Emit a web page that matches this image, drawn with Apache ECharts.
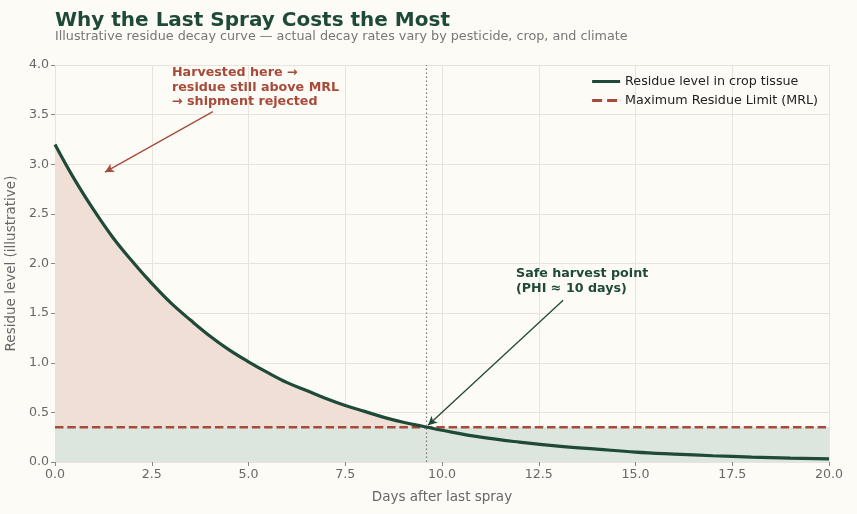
<!DOCTYPE html>
<html>
<head>
    <meta charset="utf-8">
    <title>Why the Last Spray Costs the Most</title>
    <script src="https://cdn.jsdelivr.net/npm/echarts@6/dist/echarts.min.js"></script>
    <style>
        html, body { margin: 0; padding: 0; background: #fdfbf6; }
        #main { width: 857px; height: 514px; }
    </style>
</head>
<body>
    <div id="main"></div>
    <script type="text/javascript">
        // values (every half day)
        var days = [0, 0.5, 1, 1.5, 2, 2.5, 3, 3.5, 4, 4.5, 5, 5.5, 6, 6.5, 7, 7.5, 8, 8.5, 9, 9.5,
                    10, 11, 12, 13, 14, 15, 16, 17, 18, 19, 20];
        var residue = [3.20, 2.85, 2.54, 2.26, 2.02, 1.80, 1.60, 1.43, 1.27, 1.13, 1.01, 0.90, 0.80,
                       0.72, 0.64, 0.57, 0.51, 0.45, 0.40, 0.36,
                       0.32, 0.25, 0.20, 0.16, 0.13, 0.10, 0.08, 0.063, 0.05, 0.04, 0.032];
        var mrl = 0.35;
        var phiDay = 9.6;
        var xTicks = [0, 2.5, 5, 7.5, 10, 12.5, 15, 17.5, 20];

        var green = '#1f4a37';
        var red = '#a84a3a';
        var font = 'DejaVu Sans';

        var curveData = days.map(function (d, i) { return [d, residue[i]]; });
        var mrlData = [[xTicks[0], mrl], [xTicks[xTicks.length - 1], mrl]];

        var myChart = echarts.init(document.getElementById('main'));

        var option = {
            backgroundColor: '#fdfbf6',
            animation: false,
            textStyle: { fontFamily: font },
            title: {
                text: 'Why the Last Spray Costs the Most',
                subtext: 'Illustrative residue decay curve \u2014 actual decay rates vary by pesticide, crop, and climate',
                left: 50,
                top: 6,
                itemGap: -1,
                textStyle: { fontSize: 20, fontWeight: 'bold', color: green, fontFamily: font },
                subtextStyle: { fontSize: 12.75, color: '#777', fontFamily: font }
            },
            legend: {
                orient: 'vertical',
                right: 34,
                top: 70,
                itemWidth: 28,
                itemHeight: 3,
                itemGap: 6,
                symbolKeepAspect: false,
                textStyle: { fontSize: 12.7, color: '#222', fontFamily: font },
                data: [
                    { name: 'Residue level in crop tissue', icon: 'path://M0,0H28V3.5H0Z',
                      itemStyle: { color: green } },
                    { name: 'Maximum Residue Limit (MRL)', icon: 'path://M0,0H10V3.5H0Z M15,0H25V3.5H15Z M27.9,0H28V3.5H27.9Z',
                      itemStyle: { color: red } }
                ]
            },
            grid: { left: 55, right: 28, top: 65, bottom: 52, outerBoundsMode: 'none' },
            xAxis: {
                type: 'value',
                min: 0,
                max: 20,
                interval: 2.5,
                name: 'Days after last spray',
                nameLocation: 'middle',
                nameGap: 28,
                nameTextStyle: { fontSize: 13.5, color: '#666' },
                axisLine: { show: false },
                axisTick: { show: true, length: 4, lineStyle: { color: '#888' } },
                axisLabel: { fontSize: 12.6, color: '#666', margin: 6,
                    formatter: function (v) { return v.toFixed(1); } },
                splitLine: { show: true, lineStyle: { color: '#e8e3dc', width: 1 } }
            },
            yAxis: {
                type: 'value',
                min: 0,
                max: 4,
                interval: 0.5,
                name: 'Residue level (illustrative)',
                nameLocation: 'middle',
                nameGap: 36,
                nameTextStyle: { fontSize: 13.5, color: '#666' },
                axisLine: { show: false },
                axisTick: { show: true, length: 4, lineStyle: { color: '#888' } },
                axisLabel: { fontSize: 12.6, color: '#666', margin: 6,
                    formatter: function (v) { return v.toFixed(1); } },
                splitLine: { show: true, lineStyle: { color: '#e8e3dc', width: 1 } }
            },
            series: [
                {
                    // pink fill under the curve
                    name: 'fill',
                    type: 'line',
                    data: curveData,
                    smooth: 0.4,
                    symbol: 'none',
                    silent: true,
                    lineStyle: { width: 0, opacity: 0 },
                    areaStyle: { color: '#efdfd7', opacity: 1 },
                    z: 1
                },
                {
                    name: 'Maximum Residue Limit (MRL)',
                    type: 'line',
                    data: mrlData,
                    symbol: 'none',
                    color: red,
                    lineStyle: { color: red, width: 2.4, type: [8.5, 3.8] },
                    areaStyle: { color: '#dce6de', opacity: 1 },
                    markLine: {
                        silent: true,
                        symbol: ['none', 'none'],
                        label: { show: false },
                        lineStyle: { color: '#777', width: 1.2, type: [1.5, 2.5] },
                        data: [{ xAxis: phiDay }]
                    },
                    z: 2
                },
                {
                    name: 'Residue level in crop tissue',
                    type: 'line',
                    data: curveData,
                    smooth: 0.4,
                    symbol: 'none',
                    color: green,
                    lineStyle: { color: green, width: 3.2 },
                    markLine: {
                        silent: true,
                        symbol: ['none', 'arrow'],
                        symbolSize: [7, 9],
                        label: { show: false },
                        data: [
                            [
                                { coord: [4.08, 3.53], lineStyle: { color: red, width: 1.3, type: 'solid' } },
                                { coord: [1.29, 2.92] }
                            ],
                            [
                                { coord: [13.13, 1.63], lineStyle: { color: green, width: 1.3, type: 'solid' } },
                                { coord: [9.64, 0.37] }
                            ]
                        ]
                    },
                    z: 3
                }
            ],
            graphic: [
                {
                    type: 'text',
                    left: 172,
                    top: 65,
                    style: {
                        text: 'Harvested here \u2192\nresidue still above MRL\n\u2192 shipment rejected',
                        fill: red,
                        font: 'bold 12.7px "DejaVu Sans"',
                        lineHeight: 14.8
                    },
                    z: 10
                },
                {
                    type: 'text',
                    left: 516,
                    top: 266,
                    style: {
                        text: 'Safe harvest point\n(PHI \u2248 10 days)',
                        fill: green,
                        font: 'bold 12.7px "DejaVu Sans"',
                        lineHeight: 15
                    },
                    z: 10
                }
            ]
        };

        myChart.setOption(option);
    </script>
</body>
</html>
